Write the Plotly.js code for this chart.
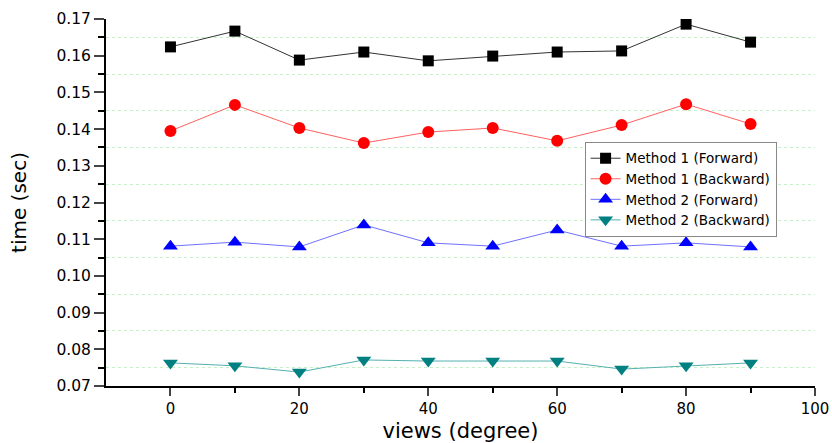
<!DOCTYPE html>
<html><head><meta charset="utf-8">
<script src="https://cdn.plot.ly/plotly-3.0.1.min.js"></script>
<style>html,body{margin:0;padding:0;background:#fff}#chart{width:832px;height:443px}</style>
</head><body><div id="chart"></div>
<script>
const views = [0, 10, 20, 30, 40, 50, 60, 70, 80, 90];
const m1Forward  = [0.1624, 0.1667, 0.1588, 0.1610, 0.1586, 0.1599, 0.1610, 0.1613, 0.1686, 0.1637];
const m1Backward = [0.1395, 0.1466, 0.1403, 0.1362, 0.1392, 0.1403, 0.1368, 0.1411, 0.1468, 0.1414];
const m2Forward  = [0.1081, 0.1092, 0.1079, 0.1139, 0.1090, 0.1081, 0.1125, 0.1081, 0.1090, 0.1079];
const m2Backward = [0.0763, 0.0755, 0.0738, 0.0771, 0.0768, 0.0768, 0.0768, 0.0746, 0.0755, 0.0763];
const names = ["Method 1 (Forward)", "Method 1 (Backward)", "Method 2 (Forward)", "Method 2 (Backward)"];
const xTicks = [0, 20, 40, 60, 80, 100];
const xMinorTicks = [10, 30, 50, 70, 90];

const font = "DejaVu Sans, Arial, sans-serif";
function tr(y, name, lineColor, markerColor, symbol, size) {
  return {x: views, y: y, name: name, type: "scatter", mode: "lines+markers",
    line: {color: lineColor, width: 1},
    marker: {color: markerColor, symbol: symbol, size: size}};
}
const data = [
  tr(m1Forward, names[0], "#333333", "#000000", "square", 11),
  tr(m1Backward, names[1], "#ff6060", "#ff0000", "circle", 12),
  tr(m2Forward, names[2], "#7070ff", "#0000ff", "triangle-up", 13),
  tr(m2Backward, names[3], "#55b0b0", "#008080", "triangle-down", 13)
];
const layout = {
  width: 832, height: 443,
  margin: {l: 106, r: 17, t: 19, b: 57},
  paper_bgcolor: "#fff", plot_bgcolor: "#fff",
  font: {family: font, color: "#000"},
  showlegend: true,
  legend: {x: 0.675, y: 0.665, xanchor: "left", yanchor: "top",
    bgcolor: "#fff", bordercolor: "#888", borderwidth: 1,
    font: {size: 13.5, family: font}, tracegroupgap: 0},
  xaxis: {range: [-10, 100], tickvals: xTicks, ticks: "outside", ticklen: 8, tickwidth: 2,
    showline: true, linecolor: "#000", linewidth: 2, showgrid: false, zeroline: false,
    tickfont: {size: 15, family: font},
    minor: {tickvals: xMinorTicks, ticks: "outside", ticklen: 5, tickwidth: 2, tickcolor: "#000", showgrid: false},
    title: {text: "views (degree)", font: {size: 21, family: font}, standoff: 10}},
  yaxis: {range: [0.07, 0.17], dtick: 0.01, tick0: 0.07, tickformat: ".2f", ticks: "outside", ticklen: 10, tickwidth: 2,
    showline: true, linecolor: "#000", linewidth: 2, showgrid: false, zeroline: false,
    tickfont: {size: 15.5, family: font},
    minor: {dtick: 0.01, tick0: 0.075, ticks: "outside", ticklen: 6, tickwidth: 2, tickcolor: "#000",
      showgrid: true, gridcolor: "#c8f0c8", griddash: "dot", gridwidth: 1},
    title: {text: "time (sec)", font: {size: 20, family: font}, standoff: 24}}
};
Plotly.newPlot("chart", data, layout, {displayModeBar: false, staticPlot: true});
</script></body></html>
